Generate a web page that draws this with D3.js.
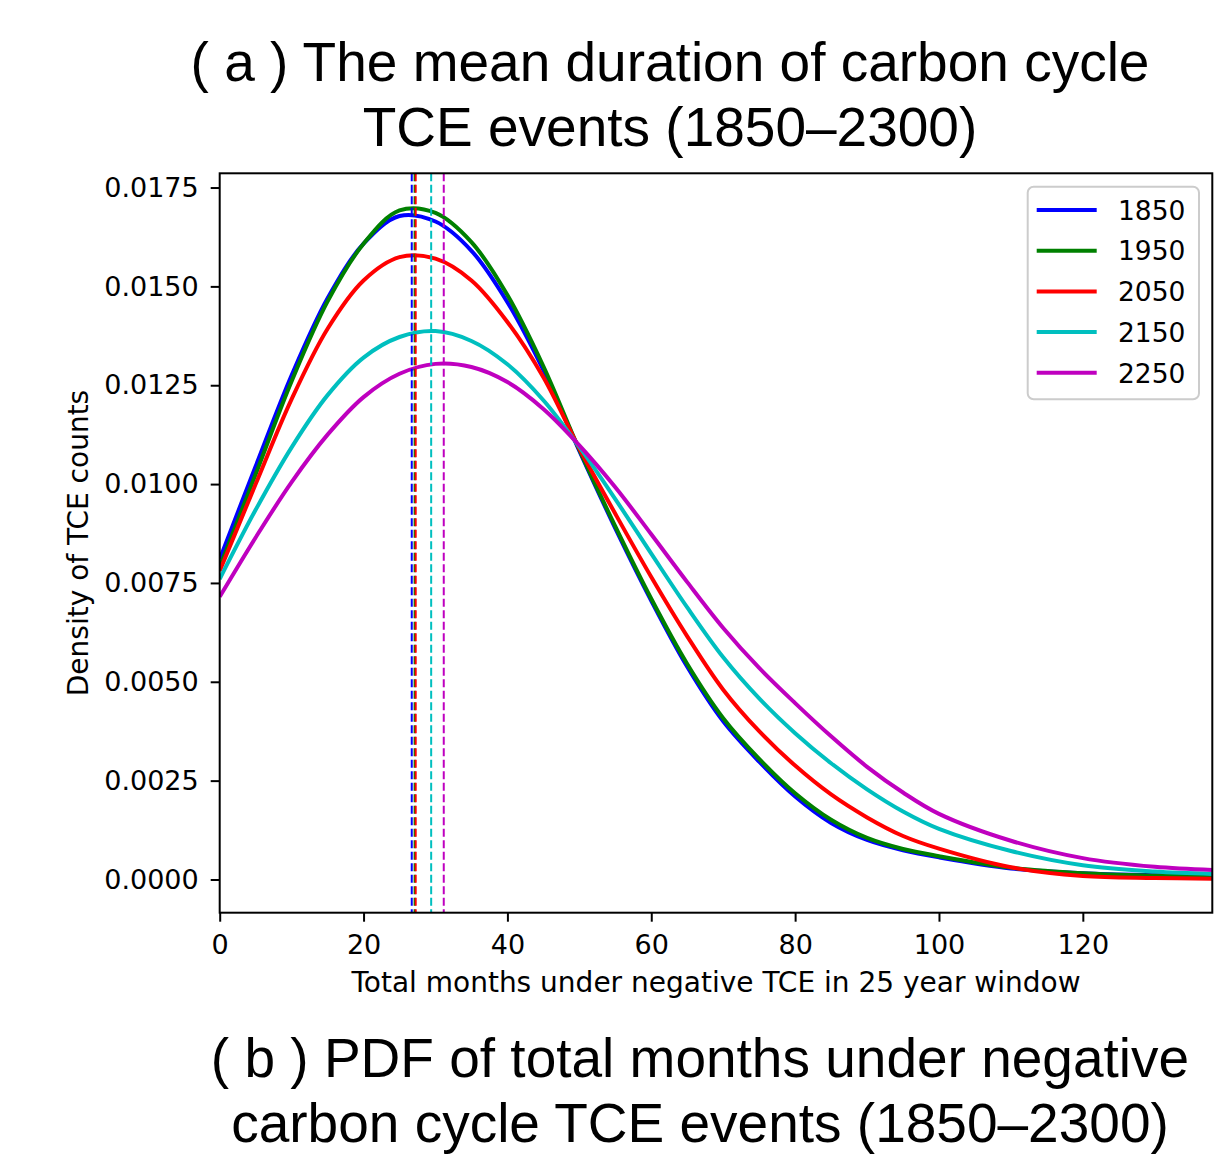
<!DOCTYPE html>
<html>
<head>
<meta charset="utf-8">
<script src="https://d3js.org/d3.v7.min.js"></script>
<style>
body {margin:0; background:#fff;}
.tick text {font-family:"DejaVu Sans"; font-size:27px; fill:#000;}
.tick line {stroke:#000; stroke-width:2;}
.title {font-family:"Liberation Sans", Arial, sans-serif; font-size:55px; fill:#000;}
.lab {font-family:"DejaVu Sans"; font-size:26.5px; fill:#000;}
.axlab {font-family:"DejaVu Sans"; font-size:28px; fill:#000;}
</style>
</head>
<body>
<svg width="1228" height="1155"></svg>
<script>

// months on x axis where the curves were read
var months = [0,5,10,15,20,25,30,35,40,45,50,55,60,65,70,75,80,85,90,95,100,110,120,130,138];

// density values per year
var pdf1850 = [0.0081,0.01045,0.01275,0.01470,0.01608,0.01678,0.01664,0.01590,0.01460,0.01288,0.01084,0.00888,0.00705,0.00538,0.00400,0.00298,0.00210,0.00143,0.00100,0.00074,0.00056,0.00028,0.00016,0.00011,0.00009];
var pdf1950 = [0.0079,0.01025,0.01260,0.01462,0.01608,0.01692,0.01686,0.01612,0.01478,0.01298,0.01087,0.00893,0.00710,0.00545,0.00408,0.00305,0.00218,0.00151,0.00105,0.00077,0.00059,0.00030,0.00016,0.00010,0.00008];
var pdf2050 = [0.0078,0.01000,0.01215,0.01393,0.01515,0.01574,0.01570,0.01515,0.01410,0.01270,0.01090,0.00925,0.00765,0.00615,0.00480,0.00375,0.00288,0.00215,0.00157,0.00110,0.00078,0.00031,0.00009,0.00004,0.00002];
var pdf2150 = [0.0076,0.00935,0.01093,0.01225,0.01320,0.01372,0.01387,0.01362,0.01303,0.01212,0.01094,0.00962,0.00824,0.00688,0.00562,0.00458,0.00370,0.00294,0.00228,0.00172,0.00128,0.00072,0.00036,0.00020,0.00014];
var pdf2250 = [0.00715,0.00865,0.01005,0.01125,0.01220,0.01279,0.01304,0.01296,0.01258,0.01190,0.01098,0.00992,0.00873,0.00752,0.00636,0.00535,0.00446,0.00362,0.00285,0.00220,0.00166,0.00098,0.00054,0.00032,0.00024];

var years = ["1850","1950","2050","2150","2250"];
var series = [pdf1850, pdf1950, pdf2050, pdf2150, pdf2250];
var colors = ["#0000ff","#008000","#ff0000","#00bfbf","#bf00bf"];
// mean duration (dashed lines)
var meanMonths = [26.7, 27.1, 27.25, 29.4, 31.15];

var xTicks = [0,20,40,60,80,100,120];
var yTicks = [0,0.0025,0.005,0.0075,0.01,0.0125,0.015,0.0175];

var axL = 219.7, axR = 1212.3, axT = 173.3, axB = 912.7;

var svg = d3.select("svg");

var x = d3.scaleLinear().domain([0,138]).range([axL,axR]);
var y = d3.scaleLinear().domain([-0.00084,0.01786]).range([axB,axT]);

svg.append("clipPath").attr("id","clip")
	.append("rect")
	.attr("x",axL).attr("y",axT)
	.attr("width",axR-axL).attr("height",axB-axT);

// titles
var t1 = svg.append("text").attr("class","title").attr("text-anchor","middle");
t1.append("tspan").attr("x",670).attr("y",81).text("( a ) The mean duration of carbon cycle");
t1.append("tspan").attr("x",670).attr("y",146).text("TCE events (1850\u20132300)");

var t2 = svg.append("text").attr("class","title").attr("text-anchor","middle");
t2.append("tspan").attr("x",700).attr("y",1077).text("( b ) PDF of total months under negative");
t2.append("tspan").attr("x",700).attr("y",1142).text("carbon cycle TCE events (1850\u20132300)");

// axes
var xAxis = svg.append("g")
	.attr("transform","translate(0,"+axB+")")
	.call(d3.axisBottom(x).tickValues(xTicks).tickSize(9).tickPadding(13).tickFormat(d3.format("d")));
var yAxis = svg.append("g")
	.attr("transform","translate("+axL+",0)")
	.call(d3.axisLeft(y).tickValues(yTicks).tickSize(9).tickPadding(12).tickFormat(d3.format(".4f")));
xAxis.select(".domain").remove();
yAxis.select(".domain").remove();
svg.selectAll(".tick text").attr("font-family",null).attr("font-size",null);

svg.append("text").attr("class","axlab")
	.attr("text-anchor","middle")
	.attr("x",(axL+axR)/2).attr("y",991.5)
	.text("Total months under negative TCE in 25 year window");

svg.append("text").attr("class","axlab")
	.attr("text-anchor","middle")
	.attr("transform","translate(88,"+((axT+axB)/2)+") rotate(-90)")
	.text("Density of TCE counts");

// curves
var line = d3.line()
	.x(function(d,i){ return x(months[i]); })
	.y(function(d){ return y(d); })
	.curve(d3.curveCatmullRom.alpha(0.5));

var plot = svg.append("g").attr("clip-path","url(#clip)");

series.forEach(function(s,i){
	plot.append("path")
		.datum(s)
		.attr("d",line)
		.attr("fill","none")
		.attr("stroke",colors[i])
		.attr("stroke-width",4);
});

// dashed mean lines
plot.selectAll("line.mean").data(meanMonths)
	.enter().append("line")
	.attr("class","mean")
	.attr("x1",function(d){ return x(d); })
	.attr("x2",function(d){ return x(d); })
	.attr("y1",axT).attr("y2",axB)
	.attr("stroke",function(d,i){ return colors[i]; })
	.attr("stroke-width",2)
	.attr("stroke-dasharray","8,3.5");

// frame
svg.append("rect")
	.attr("x",axL).attr("y",axT)
	.attr("width",axR-axL).attr("height",axB-axT)
	.attr("fill","none").attr("stroke","#000").attr("stroke-width",2);

// legend
var leg = svg.append("g");
leg.append("rect")
	.attr("x",1027.7).attr("y",186.7)
	.attr("width",171.3).attr("height",212.6)
	.attr("rx",6).attr("ry",6)
	.attr("fill","#fff").attr("fill-opacity",0.8)
	.attr("stroke","#cccccc").attr("stroke-width",2);

var rows = leg.selectAll("g.row").data(years)
	.enter().append("g")
	.attr("transform",function(d,i){ return "translate(0,"+(210+i*40.7)+")"; });
rows.append("line")
	.attr("x1",1036.7).attr("x2",1096.7)
	.attr("stroke",function(d,i){ return colors[i]; })
	.attr("stroke-width",4);
rows.append("text").attr("class","lab")
	.attr("x",1118).attr("y",9.7)
	.text(function(d){ return d; });

</script>
</body>
</html>
